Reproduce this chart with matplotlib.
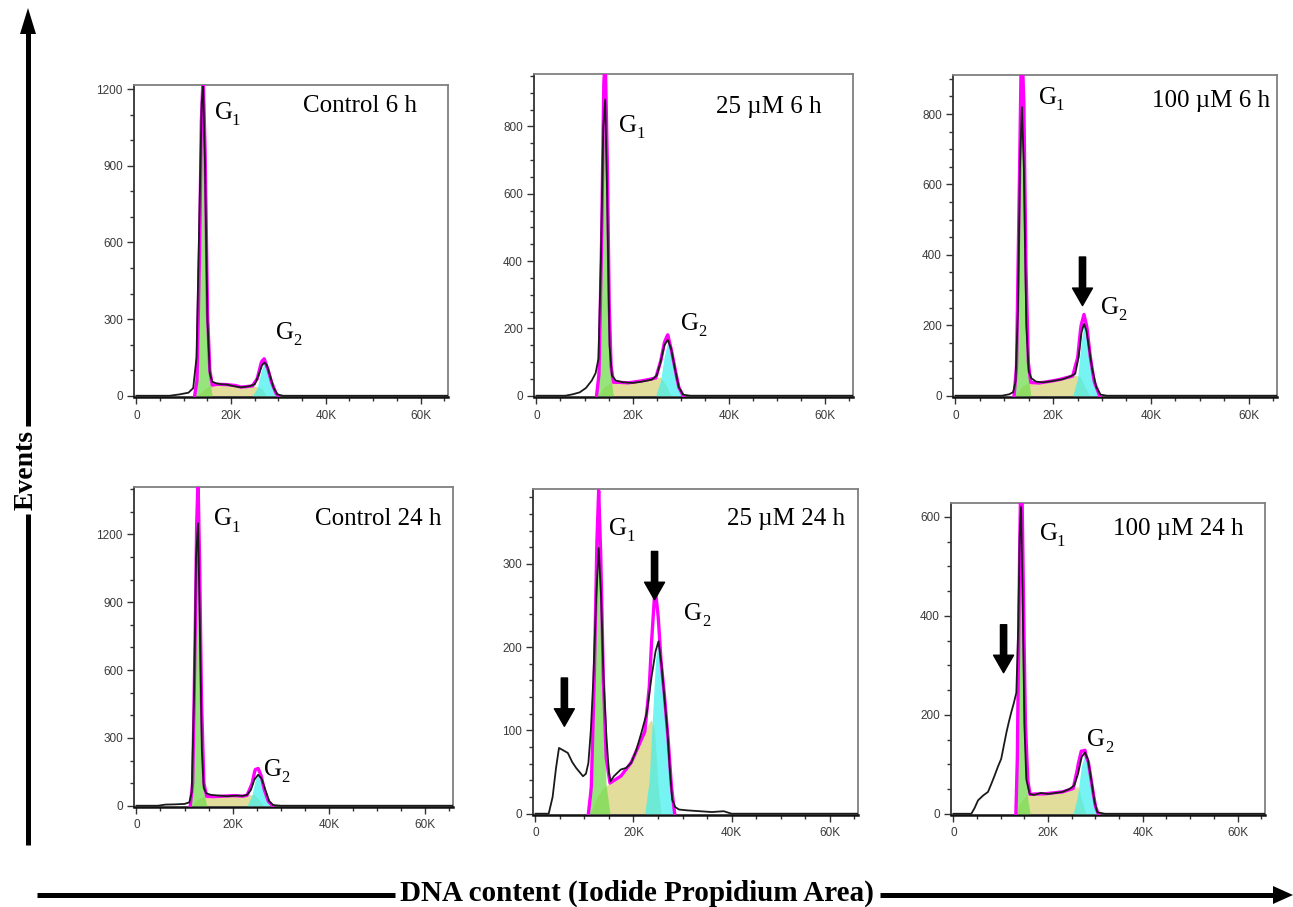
import numpy as np
import matplotlib
matplotlib.use("Agg")
from matplotlib import pyplot as plt
from matplotlib.ticker import MultipleLocator, FixedLocator

plt.rcParams['font.family'] = ['Liberation Serif', 'DejaVu Serif']

#
#   Values (x in thousands of PI-A units, y = events)
#

# Control 6 h
c6_x = [0, 7, 9, 11, 12, 12.7, 13.3, 13.8, 14.1, 14.5, 15.0, 15.5, 16, 17, 18, 19, 20, 21, 22, 23, 24, 25, 25.8, 26.5, 27, 27.5, 28.2, 29, 29.8, 31, 66]
c6_y = [0, 0, 5, 12, 30, 150, 700, 1150, 1210, 900, 300, 90, 55, 48, 45, 44, 40, 36, 33, 35, 38, 45, 80, 118, 130, 122, 80, 30, 5, 0, 0]
c6_g1_x = [12.3, 12.8, 13.3, 13.7, 14.1, 14.5, 15.0, 15.5, 16.0]
c6_g1_y = [0, 60, 500, 1050, 1230, 950, 300, 60, 0]
c6_s_x = [12.8, 14, 15.5, 17, 19, 21, 22, 23, 24, 25, 26.5, 27.5]
c6_s_y = [0, 20, 40, 45, 44, 40, 34, 35, 38, 38, 30, 0]
c6_g2_x = [24.5, 25.5, 26.3, 27.0, 27.7, 28.5, 29.5, 30]
c6_g2_y = [0, 30, 95, 130, 110, 55, 8, 0]

# 25 uM 6 h
d25_6_x = [0, 6, 7.5, 9, 10.3, 11.5, 12.3, 12.9, 13.4, 13.9, 14.3, 14.7, 15.2, 15.7, 16.5, 18, 20, 22, 24, 25, 25.8, 26.6, 27.3, 28, 28.8, 29.6, 30.5, 32, 66]
d25_6_y = [0, 0, 4, 10, 23, 45, 67, 110, 400, 800, 880, 600, 150, 60, 45, 40, 38, 42, 48, 60, 100, 150, 166, 140, 80, 25, 3, 0, 0]
d25_6_g1_x = [12.5, 13.0, 13.5, 14.0, 14.3, 14.7, 15.1, 15.5, 16.0]
d25_6_g1_y = [0, 60, 400, 900, 980, 700, 250, 50, 0]
d25_6_s_x = [12.8, 14, 15.5, 17, 19, 21, 23, 24.5, 25.8, 27, 28]
d25_6_s_y = [0, 25, 40, 40, 38, 42, 47, 52, 55, 30, 0]
d25_6_g2_x = [24.8, 25.8, 26.6, 27.3, 28.0, 28.8, 29.6, 30.5]
d25_6_g2_y = [0, 45, 120, 160, 140, 80, 25, 0]

# 100 uM 6 h
d100_6_x = [0, 9.5, 11, 11.8, 12.3, 12.8, 13.2, 13.6, 14.0, 14.5, 15.0, 15.5, 16.5, 18, 20, 22, 23.5, 24.5, 25.2, 25.8, 26.3, 26.8, 27.4, 28, 28.8, 29.7, 31, 66]
d100_6_y = [0, 0, 4, 10, 40, 250, 650, 820, 650, 200, 70, 50, 40, 38, 42, 47, 55, 62, 110, 180, 204, 185, 130, 75, 25, 3, 0, 0]
d100_6_g1_x = [12.0, 12.5, 13.0, 13.4, 13.7, 14.0, 14.4, 14.9, 15.4]
d100_6_g1_y = [0, 80, 500, 900, 930, 800, 350, 60, 0]
d100_6_s_x = [12.3, 13.5, 15, 17, 19, 21, 23, 24.5, 25.5, 26.5, 27.5]
d100_6_s_y = [0, 25, 38, 36, 40, 45, 52, 58, 55, 25, 0]
d100_6_g2_x = [24.0, 25.0, 25.7, 26.3, 26.9, 27.6, 28.4, 29.5]
d100_6_g2_y = [0, 50, 150, 200, 180, 110, 40, 0]

# Control 24 h
c24_x = [0, 4.5, 6, 8, 10, 11, 11.5, 12.0, 12.4, 12.8, 13.2, 13.6, 14.0, 14.5, 15.5, 17, 19, 21, 22, 23, 23.8, 24.5, 25.3, 26, 26.8, 27.6, 28.4, 30, 66]
c24_y = [0, 0, 5, 6, 8, 15, 60, 500, 1100, 1250, 800, 250, 80, 55, 48, 45, 42, 45, 43, 48, 70, 115, 137, 120, 70, 20, 3, 0, 0]
c24_g1_x = [11.2, 11.7, 12.2, 12.5, 12.8, 13.1, 13.5, 14.0, 14.6]
c24_g1_y = [0, 100, 700, 1200, 1420, 1100, 450, 60, 0]
c24_s_x = [11.5, 12.5, 14, 16, 18, 20, 22, 23.5, 24.5, 25.5, 26.5]
c24_s_y = [0, 25, 42, 40, 42, 45, 42, 48, 50, 25, 0]
c24_g2_x = [23, 24, 24.7, 25.3, 25.9, 26.6, 27.4, 28.3]
c24_g2_y = [0, 45, 115, 135, 120, 70, 20, 0]

# 25 uM 24 h
d25_24_x = [0, 2.7, 3.5, 4.2, 4.8, 5.7, 6.6, 7.5, 8.3, 9.0, 9.7, 10.3, 10.8, 11.3, 11.8, 12.4, 12.9, 13.4, 13.9, 14.5, 15.0, 15.3, 16.0, 17.4, 18.5, 19.5, 20.5, 21.6, 22.7, 23.7, 24.5, 25.1, 25.7, 26.3, 26.9, 27.4, 27.9, 28.5, 29.3, 31, 33.5, 36, 38.4, 40, 66]
d25_24_y = [0, 0, 20, 55, 79, 76, 73, 62, 55, 50, 45, 48, 61, 100, 161, 260, 319, 260, 161, 90, 49, 39, 45, 53, 55, 61, 75, 97, 121, 165, 195, 207, 180, 140, 101, 55, 17, 8, 5, 4, 3, 2, 3, 0, 0]
d25_24_g1_x = [10.8, 11.4, 12.0, 12.5, 12.9, 13.3, 13.8, 14.4, 15.2]
d25_24_g1_y = [0, 30, 150, 300, 366, 290, 140, 35, 0]
d25_24_s_x = [11.2, 12.5, 14, 15.5, 17.4, 19.5, 21.6, 23.0, 23.6, 24.3, 25.0, 25.6]
d25_24_s_y = [0, 20, 32, 38, 45, 61, 89, 108, 113, 100, 35, 0]
d25_24_g2_x = [22.3, 23.2, 24.0, 24.5, 25.0, 25.5, 26.2, 27.0, 27.7, 28.4]
d25_24_g2_y = [0, 40, 130, 185, 205, 190, 150, 95, 35, 0]

# 100 uM 24 h
d100_24_x = [0, 3.8, 4.5, 5.2, 6.3, 7.3, 8.0, 8.7, 9.4, 10.1, 10.7, 11.2, 11.7, 12.2, 12.8, 13.3, 13.7, 14.0, 14.3, 14.6, 15.0, 15.4, 16.1, 17, 18.5, 20, 21.5, 23, 24.5, 25.5, 26.3, 27.1, 27.8, 28.4, 29.1, 29.8, 30.4, 32, 66]
d100_24_y = [0, 0, 12, 27, 37, 44, 60, 77, 95, 111, 140, 164, 185, 204, 225, 245, 380, 560, 620, 450, 180, 70, 40, 38, 42, 40, 42, 44, 50, 57, 80, 115, 124, 110, 70, 25, 3, 0, 0]
d100_24_g1_x = [13.2, 13.5, 13.9, 14.2, 14.5, 14.8, 15.2, 15.7, 16.2]
d100_24_g1_y = [0, 100, 450, 640, 620, 400, 150, 30, 0]
d100_24_s_x = [13.2, 14, 15.5, 17, 19, 21, 23, 25, 26.3, 27.2, 28]
d100_24_s_y = [0, 20, 38, 40, 40, 42, 44, 50, 55, 25, 0]
d100_24_g2_x = [25.3, 26.2, 27.0, 27.8, 28.5, 29.3, 30.0, 30.6]
d100_24_g2_y = [0, 35, 95, 122, 105, 55, 15, 0]

titles = ['Control 6 h', '25 µM 6 h', '100 µM 6 h',
          'Control 24 h', '25 µM 24 h', '100 µM 24 h']
x_ticks = [0, 20, 40, 60]
x_tick_labels = ['0', '20K', '40K', '60K']

W, H = 1293, 907


def px_box(left, top, right, bottom):
    return [left / W, 1 - bottom / H, (right - left) / W, (bottom - top) / H]


panels = [
    dict(box=px_box(134, 85, 448, 397), ylim=1216, yt=[0, 300, 600, 900, 1200], ym=100,
         data=(c6_x, c6_y), g1=(c6_g1_x, c6_g1_y), s=(c6_s_x, c6_s_y), g2=(c6_g2_x, c6_g2_y),
         t=(59.3, 1109), g1l=(16.5, 1083), g2l=(29.4, 223), arrows=[]),
    dict(box=px_box(534, 74, 853, 397), ylim=956, yt=[0, 200, 400, 600, 800], ym=50,
         data=(d25_6_x, d25_6_y), g1=(d25_6_g1_x, d25_6_g1_y), s=(d25_6_s_x, d25_6_s_y), g2=(d25_6_g2_x, d25_6_g2_y),
         t=(59.3, 840), g1l=(17.1, 785), g2l=(30.0, 196), arrows=[]),
    dict(box=px_box(953, 75, 1277, 397), ylim=911, yt=[0, 200, 400, 600, 800], ym=50,
         data=(d100_6_x, d100_6_y), g1=(d100_6_g1_x, d100_6_g1_y), s=(d100_6_s_x, d100_6_s_y), g2=(d100_6_g2_x, d100_6_g2_y),
         t=(64.4, 821), g1l=(17.0, 830), g2l=(29.7, 233), arrows=[(26.0, 394, 256)]),
    dict(box=px_box(134, 487, 453, 807), ylim=1410, yt=[0, 300, 600, 900, 1200], ym=100,
         data=(c24_x, c24_y), g1=(c24_g1_x, c24_g1_y), s=(c24_s_x, c24_s_y), g2=(c24_g2_x, c24_g2_y),
         t=(63.4, 1240), g1l=(16.2, 1240), g2l=(26.5, 133), arrows=[]),
    dict(box=px_box(533, 489, 858, 815), ylim=390, yt=[0, 100, 200, 300], ym=20,
         data=(d25_24_x, d25_24_y), g1=(d25_24_g1_x, d25_24_g1_y), s=(d25_24_s_x, d25_24_s_y), g2=(d25_24_g2_x, d25_24_g2_y),
         t=(63.2, 347), g1l=(15.0, 335), g2l=(30.4, 233), arrows=[(5.9, 163, 105), (24.3, 315, 257)]),
    dict(box=px_box(951, 503, 1265, 815), ylim=628, yt=[0, 200, 400, 600], ym=50,
         data=(d100_24_x, d100_24_y), g1=(d100_24_g1_x, d100_24_g1_y), s=(d100_24_s_x, d100_24_s_y), g2=(d100_24_g2_x, d100_24_g2_y),
         t=(61.2, 563), g1l=(18.2, 553), g2l=(28.3, 137), arrows=[(10.6, 382, 285)]),
]


def g_label(ax, x, y, n):
    # "G" with a real lowered subscript
    ax.text(x, y, 'G', ha='left', va='baseline', fontsize=18, zorder=6)
    ax.annotate(n, xy=(x, y), xytext=(12.5, -4.5), textcoords='offset points',
                ha='left', va='baseline', fontsize=12, zorder=6)


def draw_panel(ax, p, title):

    ax.set_xlim(-0.5, 65.8)
    ax.set_ylim(-0.004 * p['ylim'], p['ylim'])

    # model components
    ax.fill_between(*p['s'], color='#d9d27a', alpha=0.75, lw=0, zorder=2)
    ax.fill_between(*p['g1'], color='#72dc50', alpha=0.75, lw=0, zorder=3)
    ax.fill_between(*p['g2'], color='#3cf0f0', alpha=0.7, lw=0, zorder=3)

    # model sum (pink)
    lo = min(p['g1'][0][0], p['s'][0][0], p['g2'][0][0])
    hi = max(p['g1'][0][-1], p['s'][0][-1], p['g2'][0][-1])
    xs = np.linspace(lo, hi, 800)
    total = sum(np.interp(xs, cx, cy, left=0, right=0) for cx, cy in (p['g1'], p['s'], p['g2']))
    ax.plot(xs, total, color='#ff00ff', lw=2.4, zorder=4, solid_joinstyle='round')

    # raw data (black)
    ax.plot(*p['data'], color='#1a1a1a', lw=1.3, zorder=5)

    ax.xaxis.set_major_locator(FixedLocator(x_ticks))
    ax.set_xticklabels(x_tick_labels)
    ax.xaxis.set_minor_locator(MultipleLocator(5))
    ax.yaxis.set_major_locator(FixedLocator(p['yt']))
    ax.yaxis.set_minor_locator(MultipleLocator(p['ym']))
    ax.tick_params(which='both', direction='out', color='#333333', width=1.0,
                   labelsize=8.5, labelcolor='#3a3a3a', top=False, right=False)
    ax.tick_params(which='major', length=5, pad=3)
    ax.tick_params(which='minor', length=3)
    ax.tick_params(axis='x', pad=4)
    for lab in ax.get_xticklabels() + ax.get_yticklabels():
        lab.set_family('Liberation Sans')

    for side in ['top', 'right']:
        ax.spines[side].set_color('#808080')
        ax.spines[side].set_linewidth(1.3)
    ax.spines['left'].set_color('#333333')
    ax.spines['left'].set_linewidth(1.3)
    ax.spines['bottom'].set_color('#111111')
    ax.spines['bottom'].set_linewidth(1.8)

    ax.text(p['t'][0], p['t'][1], title, ha='right', va='baseline', fontsize=18, zorder=6)
    g_label(ax, p['g1l'][0], p['g1l'][1], '1')
    g_label(ax, p['g2l'][0], p['g2l'][1], '2')

    for ax_x, y0, y1 in p['arrows']:
        ax.annotate('', xy=(ax_x, y1), xytext=(ax_x, y0),
                    arrowprops=dict(arrowstyle='simple,head_length=0.7,head_width=0.8,tail_width=0.25',
                                    color='black', mutation_scale=18, shrinkA=0, shrinkB=0), zorder=6)


fig = plt.figure(figsize=(W / 100, H / 100), dpi=100)

# overlay for the outer axis arrows, in pixel coordinates
ov = fig.add_axes([0, 0, 1, 1])
ov.set_xlim(0, W)
ov.set_ylim(H, 0)
ov.axis('off')

ov.plot([28, 28], [426, 32], color='black', lw=3.6, solid_capstyle='butt')
ov.fill([20, 36, 28], [34, 34, 8], color='black', lw=0)
ov.plot([28, 28], [514, 845], color='black', lw=3.6, solid_capstyle='butt')
ov.text(26, 470, 'Events', rotation=90, ha='center', va='center', fontsize=20, fontweight='bold')

ov.plot([37, 395], [895, 895], color='black', lw=3.6, solid_capstyle='butt')
ov.plot([880, 1275], [895, 895], color='black', lw=3.6, solid_capstyle='butt')
ov.fill([1273, 1273, 1293], [886, 904, 895], color='black', lw=0)
ov.text(637, 893, 'DNA content (Iodide Propidium Area)', ha='center', va='center',
        fontsize=21, fontweight='bold')

for p, title in zip(panels, titles):
    ax = fig.add_axes(p['box'])
    draw_panel(ax, p, title)

fig.savefig('out.png', dpi=100)
